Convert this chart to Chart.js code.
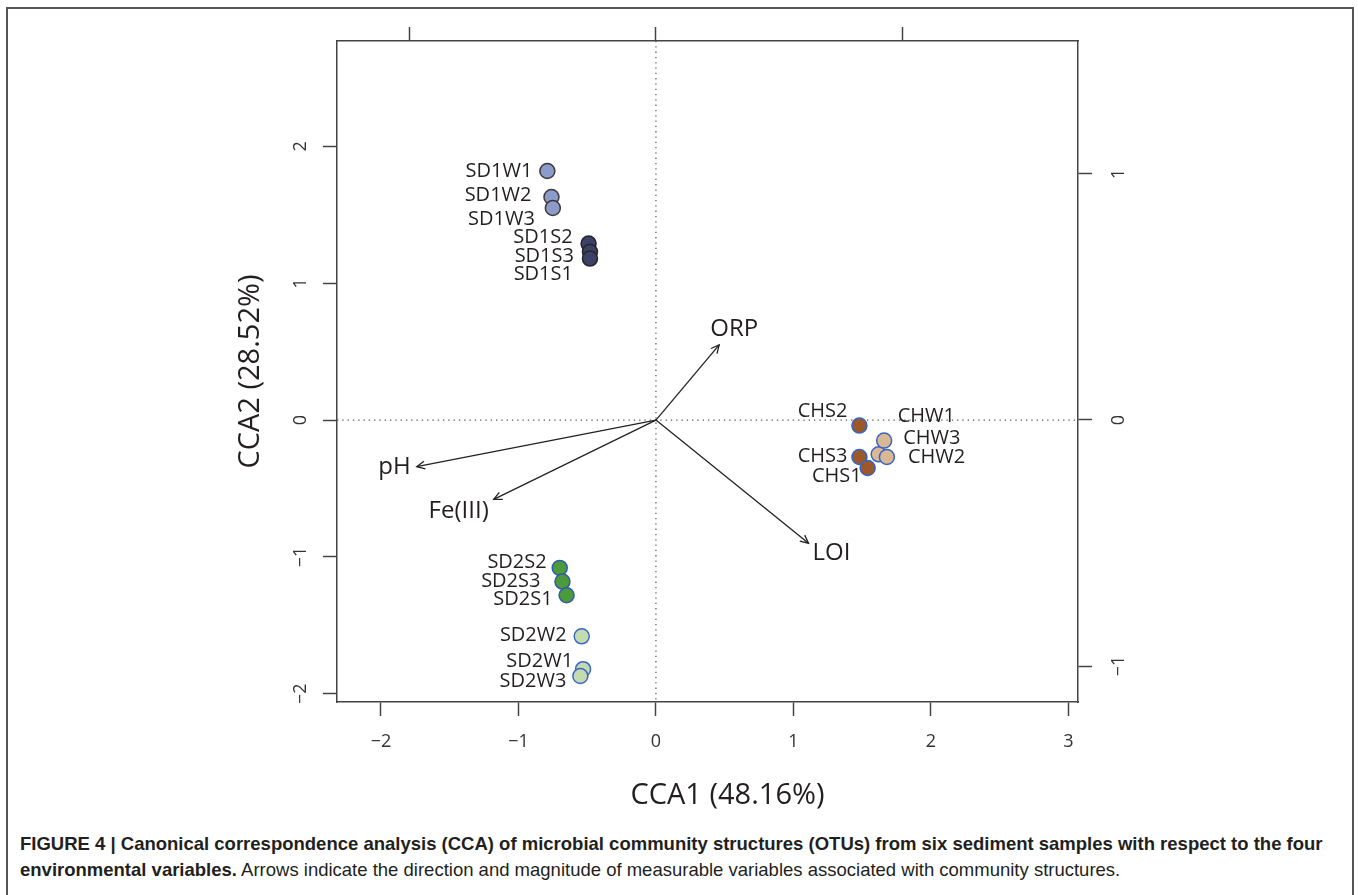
<!DOCTYPE html>
<html>
<head>
<meta charset="utf-8">
<script src="https://cdn.jsdelivr.net/npm/chart.js@4.4.1/dist/chart.umd.min.js"></script>
<style>
    html, body { margin: 0; padding: 0; background: #fff; }
    body { width: 1358px; height: 895px; overflow: hidden; position: relative; }
    #frame { position: absolute; left: 6px; top: 7px; width: 1348px; height: 920px; border: 2px solid #555; border-bottom: none; box-sizing: border-box; }
    #wrap { position: absolute; left: 0; top: 0; width: 1358px; height: 830px; }
    #caption { position: absolute; left: 20px; top: 831px; font-family: "Liberation Sans", Arial, sans-serif; font-size: 18.5px; line-height: 26px; color: #231f20; white-space: nowrap; }
</style>
</head>
<body>
<div id="frame"></div>
<div id="wrap"><canvas id="ccaChart" width="1358" height="830"></canvas></div>
<div id="caption"><b>FIGURE 4 | Canonical correspondence analysis (CCA) of microbial community structures (OTUs) from six sediment samples with respect to the four<br>environmental variables.</b> Arrows indicate the direction and magnitude of measurable variables associated with community structures.</div>
<script>
// Muestras: coordenadas en CCA1 / CCA2
const sampleNames = ['SD1W1', 'SD1W2', 'SD1W3', 'SD1S2', 'SD1S3', 'SD1S1',
    'CHS2', 'CHS3', 'CHS1', 'CHW1', 'CHW3', 'CHW2',
    'SD2S2', 'SD2S3', 'SD2S1', 'SD2W2', 'SD2W1', 'SD2W3'];
const sampleCCA1 = [-0.79, -0.76, -0.75, -0.49, -0.48, -0.48,
    1.48, 1.48, 1.54, 1.62, 1.66, 1.68,
    -0.70, -0.68, -0.65, -0.54, -0.53, -0.55];
const sampleCCA2 = [1.82, 1.63, 1.55, 1.29, 1.23, 1.18,
    -0.04, -0.27, -0.35, -0.25, -0.15, -0.27,
    -1.08, -1.18, -1.28, -1.58, -1.82, -1.87];
const sampleGroup = ['SD1W', 'SD1W', 'SD1W', 'SD1S', 'SD1S', 'SD1S',
    'CHS', 'CHS', 'CHS', 'CHW', 'CHW', 'CHW',
    'SD2S', 'SD2S', 'SD2S', 'SD2W', 'SD2W', 'SD2W'];

// Variables ambientales (flechas)
const envNames = ['ORP', 'pH', 'Fe(III)', 'LOI'];
const envCCA1 = [0.46, -1.74, -1.18, 1.11];
const envCCA2 = [0.55, -0.34, -0.58, -0.90];

// Marcas de los ejes
const xTicks = [-2, -1, 0, 1, 2, 3];
const yTicks = [-2, -1, 0, 1, 2];
const x2Ticks = [-1, 0, 1];
const y2Ticks = [-1, 0, 1];

// Estilos por grupo
const groupOrder = ['SD1W', 'SD1S', 'CHS', 'CHW', 'SD2S', 'SD2W'];
const groupStyle = {
    SD1W: { fill: '#8d9bcb', line: '#3a3a3a' },
    SD1S: { fill: '#3d4167', line: '#262626' },
    CHS: { fill: '#9b5829', line: '#3a64c2' },
    CHW: { fill: '#d8b895', line: '#3a64c2' },
    SD2S: { fill: '#4c9a3b', line: '#2f5ea6' },
    SD2W: { fill: '#c4dbb0', line: '#3a66c6' }
};

// Desplazamiento de etiquetas (px) respecto a cada punto
const labelDx = [-15, -20, -18, -16, -16, -17, -12, -12, -6, 19, 19, 21, -13, -22, -14, -15, -10, -14];
const labelDy = [0, -2, 11, -6, 5, 16, -14, -1, 8, -38, -2, 0, -6, 0, 4, -1, -8, 5];
const envLabel = [
    { dx: 15, dy: -16, align: 'center' },
    { dx: -6, dy: 1, align: 'right' },
    { dx: -5, dy: 12, align: 'right' },
    { dx: 4, dy: 10, align: 'left' }
];

const FONT = '"Open Sans", "DejaVu Sans", sans-serif';
const fmt = v => (v < 0 ? '\u2212' + Math.abs(v) : String(v));

function buildDatasets() {
    const sets = [];
    envNames.forEach((name, i) => {
        sets.push({
            type: 'line',
            label: name,
            data: [{ x: 0, y: 0 }, { x: envCCA1[i], y: envCCA2[i] }],
            showLine: true,
            borderColor: '#222',
            borderWidth: 1.3,
            pointRadius: 0,
            isArrow: true
        });
    });
    groupOrder.forEach(g => {
        const idx = sampleGroup.map((s, i) => (s === g ? i : -1)).filter(i => i >= 0);
        sets.push({
            type: 'scatter',
            label: g,
            data: idx.map(i => ({ x: sampleCCA1[i], y: sampleCCA2[i], k: i })),
            backgroundColor: groupStyle[g].fill,
            borderColor: groupStyle[g].line,
            borderWidth: 1.5,
            pointRadius: 7.5,
            pointHoverRadius: 7.5
        });
    });
    return sets;
}

// Plugin: ejes punteados en cero, puntas de flecha, etiquetas y títulos
const ccaDecor = {
    id: 'ccaDecor',
    beforeDatasetsDraw(chart) {
        const { ctx, chartArea, scales } = chart;
        const x0 = scales.x.getPixelForValue(0);
        const y0 = scales.y.getPixelForValue(0);
        ctx.save();
        ctx.strokeStyle = '#555';
        ctx.lineWidth = 1.2;
        ctx.setLineDash([1.3, 4]);
        ctx.beginPath();
        ctx.moveTo(x0, chartArea.top);
        ctx.lineTo(x0, chartArea.bottom);
        ctx.moveTo(chartArea.left, y0);
        ctx.lineTo(chartArea.right, y0);
        ctx.stroke();
        ctx.restore();
    },
    afterDatasetsDraw(chart) {
        const { ctx } = chart;
        ctx.save();
        ctx.fillStyle = '#231f20';
        ctx.strokeStyle = '#222';
        ctx.lineWidth = 1.3;
        ctx.textBaseline = 'middle';
        chart.data.datasets.forEach((ds, di) => {
            const meta = chart.getDatasetMeta(di);
            if (ds.isArrow) {
                const a = meta.data[0], b = meta.data[1];
                const ang = Math.atan2(b.y - a.y, b.x - a.x);
                const len = 9, spread = 0.45;
                ctx.beginPath();
                ctx.moveTo(b.x - len * Math.cos(ang - spread), b.y - len * Math.sin(ang - spread));
                ctx.lineTo(b.x, b.y);
                ctx.lineTo(b.x - len * Math.cos(ang + spread), b.y - len * Math.sin(ang + spread));
                ctx.stroke();
                const lab = envLabel[di];
                ctx.font = '24px ' + FONT;
                ctx.textAlign = lab.align;
                ctx.fillText(ds.label, b.x + lab.dx, b.y + lab.dy);
            } else {
                ctx.font = '20px ' + FONT;
                meta.data.forEach((pt, j) => {
                    const k = ds.data[j].k;
                    ctx.textAlign = labelDx[k] < 0 ? 'right' : 'left';
                    ctx.fillText(sampleNames[k], pt.x + labelDx[k], pt.y + labelDy[k]);
                });
            }
        });
        ctx.restore();
    },
    afterDraw(chart) {
        const { ctx, chartArea } = chart;
        ctx.save();
        ctx.fillStyle = '#231f20';
        ctx.font = '29px ' + FONT;
        ctx.textAlign = 'center';
        ctx.textBaseline = 'middle';
        ctx.fillText('CCA1 (48.16%)', (chartArea.left + chartArea.right) / 2 + 20, chartArea.bottom + 94);
        ctx.translate(chartArea.left - 86, (chartArea.top + chartArea.bottom) / 2);
        ctx.rotate(-Math.PI / 2);
        ctx.fillText('CCA2 (28.52%)', 0, 0);
        ctx.restore();
    }
};

function axis(position, min, max, ticks, size, pad) {
    const horizontal = position === 'top' || position === 'bottom';
    return {
        type: 'linear',
        position: position,
        min: min,
        max: max,
        afterBuildTicks: s => { s.ticks = ticks.map(v => ({ value: v })); },
        afterFit: s => { if (horizontal) s.height = size; else s.width = size; },
        ticks: {
            font: { family: FONT, size: 18 },
            color: '#333',
            padding: pad,
            minRotation: horizontal ? 0 : 90,
            maxRotation: horizontal ? 0 : 90,
            crossAlign: 'center',
            callback: v => fmt(v)
        },
        grid: { drawOnChartArea: false, drawTicks: true, tickLength: 14, tickColor: '#444', tickWidth: 1.5 },
        border: { display: true, color: '#444', width: 1.5 }
    };
}

function initCcaChart() {
    const ctx = document.getElementById('ccaChart').getContext('2d');
    const x2 = axis('top', -1.294, 1.712, x2Ticks, 41, 10);
    x2.ticks.display = false;
    new Chart(ctx, {
        type: 'scatter',
        data: { datasets: buildDatasets() },
        options: {
            responsive: false,
            animation: false,
            layout: { padding: 0 },
            plugins: { legend: { display: false }, tooltip: { enabled: false } },
            scales: {
                x: axis('bottom', -2.32, 3.07, xTicks, 128, 26),
                y: axis('left', -2.06, 2.77, yTicks, 337, 12),
                x2: x2,
                y2: axis('right', -1.146, 1.54, y2Ticks, 280, 17)
            }
        },
        plugins: [ccaDecor]
    });
}

document.addEventListener('DOMContentLoaded', initCcaChart);
</script>
</body>
</html>
